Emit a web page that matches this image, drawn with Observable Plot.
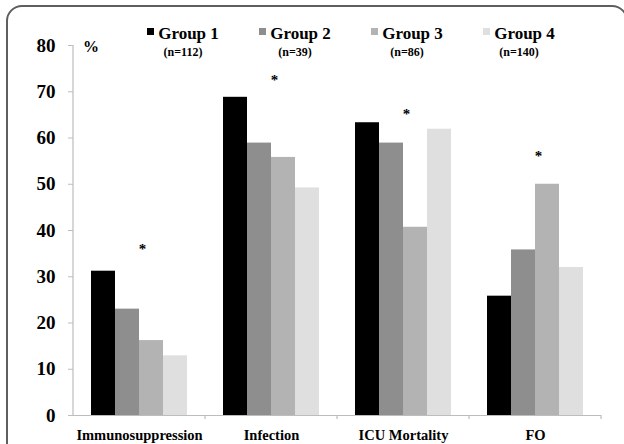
<!DOCTYPE html>
<html><head><meta charset="utf-8">
<script src="https://cdn.jsdelivr.net/npm/d3@7"></script>
<script src="https://cdn.jsdelivr.net/npm/@observablehq/plot@0.6"></script>
<style>
body{margin:0;background:#fff;}
#wrap{position:relative;width:624px;height:444px;overflow:hidden;font-family:"Liberation Serif","Times New Roman",serif;font-weight:bold;color:#000;}
#frame{position:absolute;left:6px;top:5px;width:618px;height:480px;border:2px solid #5f5f5f;border-radius:16px;}
#chart{position:absolute;left:0;top:0;}
#legend{position:absolute;left:127px;top:24px;display:flex;}
.item{width:112px;text-align:center;}
.l1{font-size:17px;line-height:20px;white-space:nowrap;}
.l2{font-size:12px;line-height:16px;}
.sw{display:inline-block;width:7px;height:7px;margin-right:4px;vertical-align:4px;}
#pct{position:absolute;left:83px;top:37px;font-size:16px;line-height:20px;}
</style></head>
<body>
<div id="wrap">
  <div id="frame"></div>
  <div id="chart"></div>
  <div id="pct">%</div>
  <div id="legend"></div>
</div>
<script>
const categories = ["Immunosuppression", "Infection", "ICU Mortality", "FO"];
const groups = ["Group 1", "Group 2", "Group 3", "Group 4"];
const groupN = ["(n=112)", "(n=39)", "(n=86)", "(n=140)"];
const colors = ["#000000", "#8e8e8e", "#b3b3b3", "#dfdfdf"];
const group1 = [31.2, 68.8, 63.3, 25.8];
const group2 = [23.0, 58.9, 58.9, 35.8];
const group3 = [16.2, 55.8, 40.7, 50.0];
const group4 = [12.9, 49.2, 61.9, 32.0];
const starHeights = [36.7, 73.1, 65.9, 56.7];
const yTicks = [0, 10, 20, 30, 40, 50, 60, 70, 80];

const series = [group1, group2, group3, group4];
const rows = [];
categories.forEach((c, i) => groups.forEach((g, j) => rows.push({category: c, group: g, value: series[j][i]})));
const stars = categories.map((c, i) => ({category: c, value: starHeights[i]}));

const chart = Plot.plot({
  width: 624, height: 444,
  marginLeft: 73, marginRight: 23, marginTop: 45, marginBottom: 29,
  style: {fontFamily: "'Liberation Serif','Times New Roman',serif", fontWeight: "bold", background: "transparent", color: "#000"},
  fx: {domain: categories, padding: 0, label: null},
  x: {domain: groups, padding: 0, insetLeft: 18, insetRight: 18, axis: null},
  y: {domain: [0, 80], axis: null},
  color: {domain: groups, range: colors},
  marks: [
    Plot.barY(rows, {fx: "category", x: "group", y: "value", fill: "group"}),
    Plot.ruleY([0], {stroke: "#bdbdbd", strokeWidth: 1.2}),
    Plot.text(stars, {fx: "category", y: "value", text: () => "*", fontSize: 15, dx: 3, dy: 3}),
    Plot.axisY({ticks: yTicks, tickSize: 5, tickPadding: 13, fontSize: 19, stroke: "#bdbdbd", fill: "#000", label: null}),
    Plot.axisFx({anchor: "bottom", tickSize: 0, tickPadding: 14, fontSize: 14.5, fill: "#000", label: null})
  ]
});
document.getElementById("chart").appendChild(chart);

// axis line and category boundary ticks from the plot's own scales
const fx = chart.scale("fx"), ys = chart.scale("y");
const svg = d3.select(chart);
const g = svg.append("g").attr("stroke", "#bdbdbd").attr("stroke-width", 1.2);
const y0 = ys.apply(0), yTop = ys.apply(80);
const left = fx.apply(categories[0]);
g.append("line").attr("x1", left).attr("x2", left).attr("y1", y0).attr("y2", yTop);
categories.forEach(c => {
  const xr = fx.apply(c) + fx.bandwidth;
  g.append("line").attr("x1", xr).attr("x2", xr).attr("y1", y0).attr("y2", y0 + 4);
});

// legend
const legend = d3.select("#legend");
groups.forEach((gname, i) => {
  const item = legend.append("div").attr("class", "item");
  const l1 = item.append("div").attr("class", "l1");
  l1.append("span").attr("class", "sw").style("background", colors[i]);
  l1.append("span").text(gname);
  item.append("div").attr("class", "l2").text(groupN[i]);
});
</script>
</body></html>
